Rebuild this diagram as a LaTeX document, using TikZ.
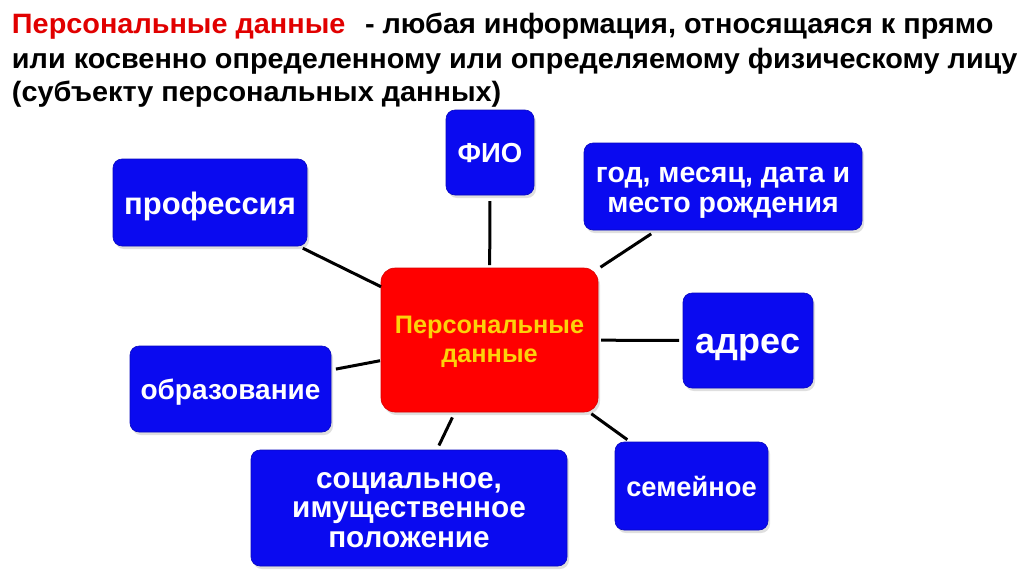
\documentclass[tikz,border=0pt]{standalone}
\usepackage{fontspec}
\setmainfont{Liberation Sans}
\newfontfamily\titlefont{Liberation Sans}[FakeStretch=1.03]
\usetikzlibrary{shadows}
\definecolor{boxblue}{RGB}{10,10,240}
\definecolor{boxred}{RGB}{255,0,0}
\definecolor{gold}{RGB}{252,210,10}
\definecolor{titlered}{RGB}{225,0,0}
\newcommand{\lowered}[2]{\raisebox{-#1}[\height][\depth]{#2}}
\newcommand{\lines}[1]{\begin{tabular}{@{}c@{}}#1\end{tabular}}
\tikzset{
  every node/.style={inner sep=0pt, outer sep=0pt},
  bluebox/.style={draw=boxblue!80!black, line width=0.6pt, fill=boxblue, rounded corners=9pt,
    text=white, font=\bfseries\fontsize{28}{30}\selectfont, align=center,
    drop shadow={opacity=0.25, shadow xshift=2pt, shadow yshift=-3pt}},
  redbox/.style={draw=boxred!85!black, line width=0.6pt, fill=boxred, rounded corners=14pt,
    text=gold, font=\bfseries\fontsize{25.3}{28.5}\selectfont, align=center,
    drop shadow={opacity=0.25, shadow xshift=2pt, shadow yshift=-3pt}},
  link/.style={line width=3pt, black},
  titletext/.style={anchor=base west, font=\titlefont\bfseries\fontsize{28}{34}\selectfont}
}
\begin{document}
\begin{tikzpicture}[x=1pt,y=-1pt]
\useasboundingbox (0,0) rectangle (1024,581);
\fill[white] (0,0) rectangle (1024,581);
% title
\node[titletext, text=titlered] (t1a) at (12,33) {Персональные данные};
\node[titletext] (t1b) at (365,33) {- любая информация, относящаяся к прямо};
\node[titletext] (t2) at (12,68) {или косвенно определенному или определяемому физическому лицу};
\node[titletext] (t3) at (12,101) {(субъекту персональных данных)};
% boxes
\node[redbox, minimum width=217pt, minimum height=144pt] (pd) at (489.5,340) {\lowered{2.5pt}{\lines{Персональные\\данные}}};
\node[bluebox, minimum width=88pt, minimum height=85pt, font=\bfseries\fontsize{27.5}{30}\selectfont] (fio) at (490,152.5) {\lowered{1pt}{ФИО}};
\node[bluebox, minimum width=194pt, minimum height=87pt, font=\bfseries\fontsize{31}{33}\selectfont] (prof) at (210,202.5) {\lowered{4pt}{профессия}};
\node[bluebox, minimum width=278pt, minimum height=87pt, font=\bfseries\fontsize{28.5}{29.5}\selectfont] (god) at (723,186.5) {\lowered{5pt}{\lines{год, месяц, дата и\\место рождения}}};
\node[bluebox, minimum width=130pt, minimum height=95pt, font=\bfseries\fontsize{36}{38}\selectfont] (adr) at (748,340.5) {\lowered{7pt}{адрес}};
\node[bluebox, minimum width=201pt, minimum height=86pt, font=\bfseries\fontsize{28}{30}\selectfont] (obr) at (230.5,389) {\lowered{3pt}{образование}};
\node[bluebox, minimum width=316pt, minimum height=116pt, font=\bfseries\fontsize{29.7}{29.5}\selectfont] (soc) at (409,508) {\lowered{4pt}{\lines{социальное,\\имущественное\\положение}}};
\node[bluebox, minimum width=153pt, minimum height=88pt, font=\bfseries\fontsize{27.3}{29}\selectfont] (sem) at (691.5,486) {\lowered{0pt}{семейное}};
% connectors
\draw[link, shorten <=6pt, shorten >=3pt] (fio) -- (pd);
\draw[link, shorten <=5pt, shorten >=0pt] (prof) -- (pd);
\draw[link, shorten <=7pt, shorten >=3pt] (god) -- (pd);
\draw[link, shorten <=4pt, shorten >=3pt] (adr) -- (pd);
\draw[link, shorten <=5pt, shorten >=1pt] (obr) -- (pd);
\draw[link, shorten <=5pt, shorten >=6pt] (soc) -- (pd);
\draw[link, shorten <=4pt, shorten >=3pt] (sem) -- (pd);
\end{tikzpicture}
\end{document}
